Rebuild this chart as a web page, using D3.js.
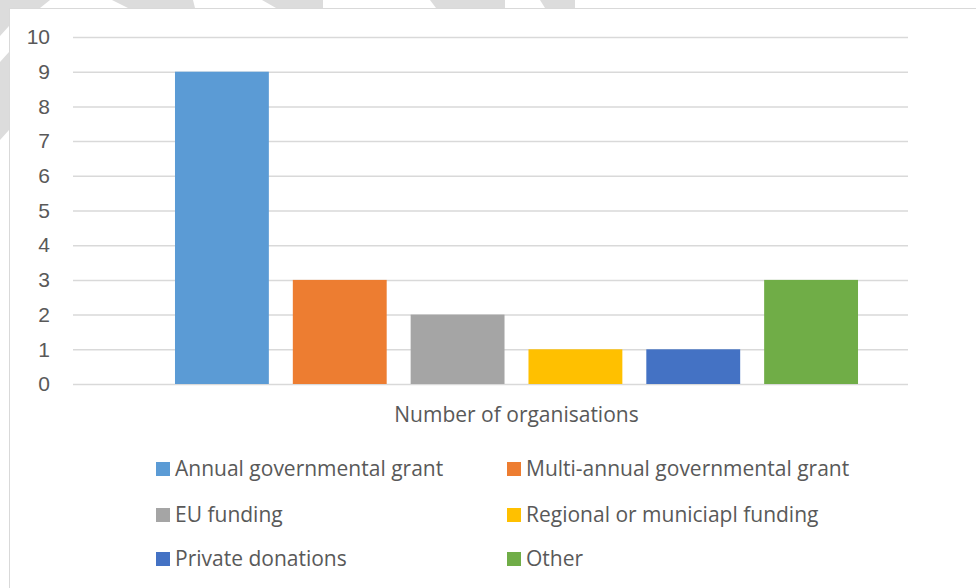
<!DOCTYPE html>
<html lang="en">
<head>
    <meta charset="UTF-8">
    <title>Number of organisations by funding source</title>
    <script src="https://d3js.org/d3.v7.min.js"></script>
    <style>
        body { margin: 0; background: #fff; }
        svg { display: block; font-family: "Open Sans", sans-serif; }
        .tick text { fill: #595959; font-size: 21px; }
    </style>
</head>
<body>
    <div id="chart"></div>
    <script>
        // data
        const sources = [
            'Annual governmental grant',
            'Multi-annual governmental grant',
            'EU funding',
            'Regional or municiapl funding',
            'Private donations',
            'Other'
        ];
        const counts = [9, 3, 2, 1, 1, 3];
        const yTicks = [0, 1, 2, 3, 4, 5, 6, 7, 8, 9, 10];
        const categoryLabel = 'Number of organisations';
        const palette = ['#5b9bd5', '#ed7d31', '#a5a5a5', '#ffc000', '#4472c4', '#70ad47'];

        const width = 976;
        const height = 588;

        const svg = d3.select('#chart')
            .append('svg')
            .attr('width', width)
            .attr('height', height);

        // faint watermark stripes peeking out around the chart frame
        const wm = svg.append('g').attr('fill', '#dcdcdc');
        wm.append('rect').attr('x', 0).attr('y', 0).attr('width', width).attr('height', 8);
        wm.append('rect').attr('x', 0).attr('y', 0).attr('width', 9).attr('height', 190);
        const gaps = [[40, 50, 112, 128], [195, 193, 262, 276], [323, 323, 430, 436], [505, 505, 540, 545], [575, 575, 976, 976]];
        svg.append('g').attr('fill', '#fff')
            .selectAll('path')
            .data(gaps)
            .join('path')
            .attr('d', d => `M${d[1]},0 L${d[2]},0 L${d[3]},8 L${d[0]},8 Z`);
        svg.append('path').attr('fill', '#fff')
            .attr('d', 'M0,36 L9,26 L9,52 L0,62 Z M0,140 L9,130 L9,190 L0,190 Z');

        // chart frame
        svg.append('rect')
            .attr('x', 9.5).attr('y', 8.5)
            .attr('width', width).attr('height', height)
            .attr('fill', '#fff')
            .attr('stroke', '#d9d9d9');

        const plotLeft = 73, plotRight = 908;
        const y = d3.scaleLinear().domain([0, 10]).range([384, 37]);
        const x = d3.scaleBand()
            .domain(sources)
            .range([163, 870])
            .paddingInner(24 / 118)
            .paddingOuter(12 / 118);
        const color = d3.scaleOrdinal().domain(sources).range(palette);

        // gridlines + labels
        const yAxis = svg.append('g')
            .attr('transform', `translate(${plotLeft},0)`)
            .call(d3.axisLeft(y).tickValues(yTicks).tickSize(-(plotRight - plotLeft)).tickPadding(23));
        yAxis.select('.domain').remove();
        yAxis.selectAll('.tick line').attr('stroke', '#d9d9d9').attr('stroke-width', 1.5);

        // bars
        svg.append('g')
            .selectAll('rect')
            .data(sources.map((s, i) => ({ source: s, value: counts[i] })))
            .join('rect')
            .attr('x', d => x(d.source))
            .attr('y', d => y(d.value))
            .attr('width', x.bandwidth())
            .attr('height', d => y(0) - y(d.value))
            .attr('fill', d => color(d.source));

        // category label
        svg.append('text')
            .attr('x', (x.range()[0] + x.range()[1]) / 2)
            .attr('y', 422)
            .attr('text-anchor', 'middle')
            .attr('fill', '#595959')
            .style('font-size', '21px')
            .text(categoryLabel);

        // legend, two columns
        const legendCols = [156, 507];
        const legendRows = [469, 515, 559];
        const legend = svg.append('g')
            .selectAll('g')
            .data(sources)
            .join('g')
            .attr('transform', (d, i) => `translate(${legendCols[i % 2]},${legendRows[Math.floor(i / 2)]})`);
        legend.append('rect')
            .attr('x', 0).attr('y', -7)
            .attr('width', 14).attr('height', 14)
            .attr('fill', d => color(d));
        legend.append('text')
            .attr('x', 19)
            .attr('dy', '0.35em')
            .attr('fill', '#595959')
            .style('font-size', '21px')
            .text(d => d);
    </script>
</body>
</html>
